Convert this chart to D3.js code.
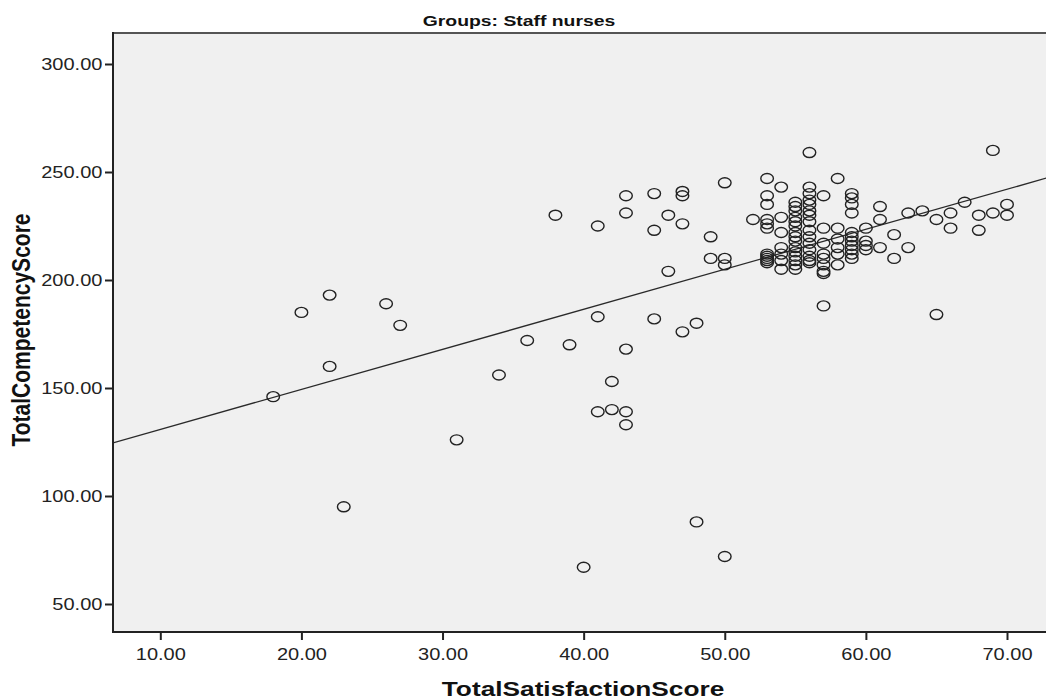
<!DOCTYPE html>
<html>
<head>
<meta charset="utf-8">
<script src="https://cdn.jsdelivr.net/npm/d3@7"></script>
<style>
  html, body { margin: 0; padding: 0; background: #ffffff; }
  svg { display: block; }
</style>
</head>
<body>
<svg id="chart" width="1046" height="700"></svg>
<script>
// ---- Data ----
const chartTitle = "Groups: Staff nurses";
const xTitle = "TotalSatisfactionScore";
const yTitle = "TotalCompetencyScore";
const xTicks = [10, 20, 30, 40, 50, 60, 70];
const yTicks = [50, 100, 150, 200, 250, 300];

// TotalSatisfactionScore per respondent
const satisfaction = [
  18, 20, 22, 22, 23, 26, 27, 31, 34, 36, 38, 39, 40,
  41, 41, 41, 42, 42, 43, 43, 43, 43, 43,
  45, 45, 45, 46, 46, 47, 47, 47, 47, 48, 48, 49, 49,
  50, 50, 50, 50, 52,
  53, 53, 53, 53, 53, 53, 53, 53, 53, 53, 53,
  54, 54, 54, 54, 54, 54, 54,
  55, 55, 55, 55, 55, 55, 55, 55, 55, 55, 55, 55, 55, 55, 55,
  56, 56, 56, 56, 56, 56, 56, 56, 56, 56, 56, 56, 56, 56, 56,
  57, 57, 57, 57, 57, 57, 57, 57, 57,
  58, 58, 58, 58, 58, 58,
  59, 59, 59, 59, 59, 59, 59, 59, 59, 59, 59,
  60, 60, 60, 60, 61, 61, 61, 62, 62, 63, 63, 64, 65, 65,
  66, 66, 67, 68, 68, 69, 69, 70, 70
];
// TotalCompetencyScore per respondent (same order)
const competency = [
  146, 185, 193, 160, 95, 189, 179, 126, 156, 172, 230, 170, 67,
  225, 183, 139, 153, 140, 239, 231, 168, 139, 133,
  240, 223, 182, 230, 204, 241, 239, 226, 176, 180, 88, 220, 210,
  245, 210, 207, 72, 228,
  247, 239, 235, 228, 226, 224, 212, 211, 210, 209, 208,
  243, 229, 222, 215, 212, 209, 205,
  236, 234, 232, 229, 227, 225, 222, 220, 218, 215, 213, 211, 209, 207, 205,
  259, 243, 240, 237, 235, 232, 230, 227, 223, 220, 217, 214, 211, 209, 208,
  239, 224, 217, 212, 210, 207, 204, 203, 188,
  247, 224, 219, 215, 212, 207,
  240, 238, 235, 231, 222, 220, 218, 216, 214, 212, 210,
  224, 218, 216, 214, 234, 228, 215, 221, 210, 231, 215, 232, 228, 184,
  231, 224, 236, 230, 223, 260, 231, 235, 230
];

// Fit line shown in the reference (intercept, slope)
const fitIntercept = [112.3];
const fitSlope = [1.853];

// ---- Layout ----
const svg = d3.select("#chart");
const plot = { left: 113, top: 33, right: 1050, bottom: 632 };
const stretch = 1.25;              // the reference is rendered wider than tall
const sansFont = "'Liberation Sans', Arial, sans-serif";

const x = d3.scaleLinear().domain([10, 70]).range([160.3, 1007]);
const y = d3.scaleLinear().domain([50, 300]).range([604, 64]);

const points = satisfaction.map((s, i) => ({ s, c: competency[i] }));

// plot background
svg.append("rect")
  .attr("x", plot.left).attr("y", plot.top)
  .attr("width", plot.right - plot.left).attr("height", plot.bottom - plot.top)
  .attr("fill", "#f0f0f0");

// top border
svg.append("line")
  .attr("x1", plot.left).attr("x2", plot.right)
  .attr("y1", plot.top).attr("y2", plot.top)
  .attr("stroke", "#555").attr("stroke-width", 2);

svg.append("defs").append("clipPath").attr("id", "clip")
  .append("rect")
  .attr("x", plot.left).attr("y", plot.top)
  .attr("width", plot.right - plot.left).attr("height", plot.bottom - plot.top);

const g = svg.append("g").attr("clip-path", "url(#clip)");

// fit line across the plot
const x0 = x.invert(plot.left), x1 = x.invert(plot.right);
g.append("line")
  .attr("x1", x(x0)).attr("y1", y(fitIntercept[0] + fitSlope[0] * x0))
  .attr("x2", x(x1)).attr("y2", y(fitIntercept[0] + fitSlope[0] * x1))
  .attr("stroke", "#2a2a2a").attr("stroke-width", 1.3);

// points
g.selectAll("ellipse.pt").data(points).enter().append("ellipse")
  .attr("class", "pt")
  .attr("cx", d => x(d.s)).attr("cy", d => y(d.c))
  .attr("rx", 6.3).attr("ry", 5)
  .attr("fill", "none").attr("stroke", "#222").attr("stroke-width", 1.4);

// axes
const xAxis = d3.axisBottom(x).tickValues(xTicks).tickFormat(d3.format(".2f"))
  .tickSize(8).tickSizeOuter(0);
const yAxis = d3.axisLeft(y).tickValues(yTicks).tickFormat(d3.format(".2f"))
  .tickSize(8).tickSizeOuter(0);

const gx = svg.append("g").attr("transform", `translate(0,${plot.bottom})`).call(xAxis);
gx.select(".domain").remove();
gx.selectAll(".tick line").attr("stroke", "#222").attr("stroke-width", 2);
gx.selectAll(".tick text")
  .attr("fill", "#222").attr("font-family", sansFont)
  .attr("font-size", 16).attr("dy", "1.05em")
  .attr("transform", `scale(${stretch},1)`);

const gy = svg.append("g").attr("transform", `translate(${plot.left},0)`).call(yAxis);
gy.select(".domain").remove();
gy.selectAll(".tick line").attr("stroke", "#222").attr("stroke-width", 2);
gy.selectAll(".tick text")
  .attr("fill", "#222").attr("font-family", sansFont)
  .attr("font-size", 16).attr("x", -8.5)
  .attr("transform", `scale(${stretch},1)`);

// axis lines (left and bottom)
svg.append("line")
  .attr("x1", plot.left).attr("x2", plot.left)
  .attr("y1", plot.top - 1).attr("y2", plot.bottom + 1)
  .attr("stroke", "#222").attr("stroke-width", 2);
svg.append("line")
  .attr("x1", plot.left - 1).attr("x2", plot.right)
  .attr("y1", plot.bottom).attr("y2", plot.bottom)
  .attr("stroke", "#222").attr("stroke-width", 2);

// titles
svg.append("text")
  .attr("transform", `translate(519,26) scale(${stretch},1)`)
  .attr("text-anchor", "middle")
  .attr("font-family", sansFont)
  .attr("font-weight", "bold").attr("font-size", 15.5).attr("fill", "#111")
  .text(chartTitle);

svg.append("text")
  .attr("transform", `translate(583,696) scale(${stretch},1)`)
  .attr("text-anchor", "middle")
  .attr("font-family", sansFont)
  .attr("font-weight", "bold").attr("font-size", 21).attr("fill", "#111")
  .text(xTitle);

svg.append("text")
  .attr("transform", `translate(30,330) scale(${stretch},1) rotate(-90)`)
  .attr("text-anchor", "middle")
  .attr("font-family", sansFont)
  .attr("font-weight", "bold").attr("font-size", 21).attr("fill", "#111")
  .text(yTitle);
</script>
</body>
</html>
